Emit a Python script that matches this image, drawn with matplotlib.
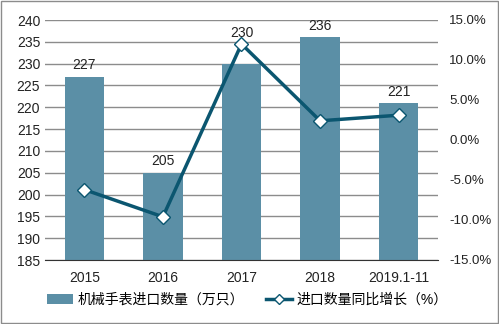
import matplotlib
matplotlib.use('Agg')
import matplotlib.pyplot as plt
from matplotlib.patches import Rectangle

plt.rcParams['font.family'] = ['Liberation Sans', 'Noto Sans CJK SC', 'DejaVu Sans']

years = ['2015', '2016', '2017', '2018', '2019.1-11']
qty = [227, 205, 230, 236, 221]
growth = [-6.2, -9.6, 12.0, 2.4, 3.1]

bar_color = '#5B8FA6'
line_color = '#0B5670'

fig = plt.figure(figsize=(4.99, 3.24), dpi=100)
ax = fig.add_axes([45 / 499, 1 - 260 / 324, 393 / 499, 240 / 324])
x = range(len(years))

ax.bar(x, qty, width=0.5, color=bar_color, zorder=2, label='机械手表进口数量（万只）')
ax.set_ylim(185, 240)
ax.set_yticks(range(185, 241, 5))
ax.set_xlim(-0.5, len(years) - 0.5)
ax.set_xticks(list(x))
ax.set_xticklabels(years)
# the 2017 label sits above the line marker
extra = [0, 0, 4.5, 0, 0]
for xi, v, e in zip(x, qty, extra):
    ax.text(xi, v + 1.0 + e, str(v), ha='center', va='bottom', fontsize=10, color='#222222')

ax.grid(axis='y', color='#8C8C8C', linewidth=1, zorder=0)
for s in ['top', 'left', 'right']:
    ax.spines[s].set_visible(False)
ax.spines['bottom'].set_color('#333333')
ax.tick_params(length=0, labelsize=10, colors='#222222')
ax.tick_params(axis='x', pad=8)

ax2 = ax.twinx()
ax2.plot(x, growth, color=line_color, linewidth=2.5, marker='D', markersize=7,
         markerfacecolor='white', markeredgecolor=line_color, markeredgewidth=1,
         zorder=3, label='进口数量同比增长（%）')
ax2.set_ylim(-15, 15)
ax2.set_yticks(range(-15, 16, 5))
ax2.set_yticklabels(['%.1f%%' % v for v in range(-15, 16, 5)])
for s in ax2.spines.values():
    s.set_visible(False)
ax2.tick_params(length=0, labelsize=9.5, colors='#222222', pad=8)

h1, l1 = ax.get_legend_handles_labels()
h2, l2 = ax2.get_legend_handles_labels()
fig.legend(h1 + h2, l1 + l2, loc='center', bbox_to_anchor=(0.495, 1 - 300 / 324), ncol=2,
           frameon=False, fontsize=10, handlelength=1.9, columnspacing=1.6, handletextpad=0.3,
           markerscale=0.7)

fig.patches.append(Rectangle((0.003, 0.003), 0.994, 0.994, transform=fig.transFigure,
                             fill=False, edgecolor='#8C8C8C', linewidth=1))

fig.savefig('out.png', dpi=100)
